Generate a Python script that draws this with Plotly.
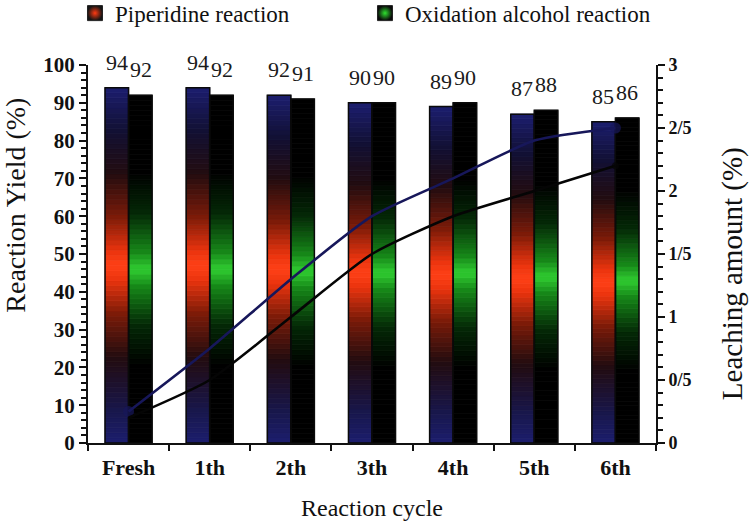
import plotly.graph_objects as go

# ---------------- data ----------------
categories = ["Fresh", "1th", "2th", "3th", "4th", "5th", "6th"]
piperidine_yield = [94, 94, 92, 90, 89, 87, 85]
oxidation_yield = [92, 92, 91, 90, 90, 88, 86]
leaching_navy = [0.25, 0.75, 1.3, 1.8, 2.1, 2.4, 2.5]
leaching_black = [0.2, 0.5, 1.0, 1.5, 1.8, 2.0, 2.2]
right_tickvals = [0, 0.5, 1, 1.5, 2, 2.5, 3]
right_ticktext = ["0", "0/5", "1", "1/5", "2", "2/5", "3"]

# ---------------- styling ----------------
FONT = "Liberation Serif"
N_SEG = 70

pip_stops = [
    (0.00, (28, 30, 110)),
    (0.10, (24, 22, 72)),
    (0.24, (34, 12, 16)),
    (0.36, (120, 26, 8)),
    (0.46, (235, 52, 14)),
    (0.50, (255, 64, 22)),
    (0.54, (235, 52, 14)),
    (0.64, (120, 26, 8)),
    (0.76, (34, 12, 16)),
    (0.88, (18, 16, 52)),
    (1.00, (28, 30, 110)),
]
oxi_stops = [
    (0.00, (0, 0, 0)),
    (0.22, (0, 0, 0)),
    (0.34, (4, 40, 6)),
    (0.45, (22, 135, 24)),
    (0.50, (48, 205, 48)),
    (0.55, (22, 135, 24)),
    (0.66, (4, 40, 6)),
    (0.78, (0, 0, 0)),
    (1.00, (0, 0, 0)),
]


def interp(stops, t):
    for (t0, c0), (t1, c1) in zip(stops[:-1], stops[1:]):
        if t0 <= t <= t1:
            f = 0 if t1 == t0 else (t - t0) / (t1 - t0)
            c = [round(a + (b - a) * f) for a, b in zip(c0, c1)]
            return f"rgb({c[0]},{c[1]},{c[2]})"
    c = stops[-1][1]
    return f"rgb({c[0]},{c[1]},{c[2]})"


fig = go.Figure()

# legend swatches (dark square with glowing centre)
fig.add_trace(go.Scatter(
    x=[None], y=[None], mode="markers", name="Piperidine reaction",
    marker=dict(symbol="square", size=15, color="#141414",
                gradient=dict(type="radial", color="#ff3a12"),
                line=dict(color="#222", width=1)),
))
fig.add_trace(go.Scatter(
    x=[None], y=[None], mode="markers", name="Oxidation alcohol reaction",
    marker=dict(symbol="square", size=15, color="#0a0a0a",
                gradient=dict(type="radial", color="#2ee02e"),
                line=dict(color="#222", width=1)),
))

# gradient bars built from stacked slices of each bar's value
for values, stops, grp in [(piperidine_yield, pip_stops, "pip"),
                           (oxidation_yield, oxi_stops, "oxi")]:
    for k in range(N_SEG):
        t = (k + 0.5) / N_SEG
        col = interp(stops, t)
        fig.add_trace(go.Bar(
            x=categories,
            y=[v / N_SEG for v in values],
            base=[v * k / N_SEG for v in values],
            offsetgroup=grp,
            marker=dict(color=col, line=dict(width=0.8, color=col)),
            showlegend=False, hoverinfo="skip",
        ))

# bar outlines
for values, grp, name in [(piperidine_yield, "pip", "Piperidine reaction"),
                          (oxidation_yield, "oxi", "Oxidation alcohol reaction")]:
    fig.add_trace(go.Bar(
        x=categories, y=values, offsetgroup=grp, name=name,
        marker=dict(color="rgba(0,0,0,0)", line=dict(color="#0a0a0a", width=1.5)),
        showlegend=False,
    ))

# leaching lines (secondary axis)
fig.add_trace(go.Scatter(
    x=categories, y=leaching_navy, yaxis="y2", mode="lines+markers",
    line=dict(color="#17175a", width=2.6, shape="spline", smoothing=0.6),
    marker=dict(size=[11, 0, 0, 0, 0, 0, 11], color="#17175a", line=dict(width=0)),
    showlegend=False,
))
fig.add_trace(go.Scatter(
    x=categories, y=leaching_black, yaxis="y2", mode="lines+markers",
    line=dict(color="#050505", width=2.6, shape="spline", smoothing=0.6),
    marker=dict(size=[0, 0, 0, 0, 0, 0, 7], color="#050505", line=dict(width=0)),
    showlegend=False,
))

# value labels above the bars
annotations = []
for values, shift in [(piperidine_yield, -12), (oxidation_yield, 12)]:
    for c, v in zip(categories, values):
        annotations.append(dict(
            x=c, y=v, xref="x", yref="y", text=str(v), showarrow=False,
            xanchor="center", yanchor="bottom", xshift=shift, yshift=11,
            font=dict(family=FONT, size=22, color="#1a1a1a"),
        ))
# rotated axis titles
annotations.append(dict(
    x=-0.127, y=0.63, xref="paper", yref="paper", text="Reaction Yield (%)",
    textangle=-90, showarrow=False, xanchor="center", yanchor="middle",
    font=dict(family=FONT, size=28, color="#111"),
))
annotations.append(dict(
    x=1.134, y=0.447, xref="paper", yref="paper", text="Leaching amount (%)",
    textangle=-90, showarrow=False, xanchor="center", yanchor="middle",
    font=dict(family=FONT, size=29, color="#111"),
))

fig.update_layout(
    width=749, height=526,
    margin=dict(l=88, r=93, t=65, b=83, autoexpand=False),
    paper_bgcolor="white", plot_bgcolor="white",
    barmode="group", bargap=0.42, bargroupgap=0.0,
    font=dict(family=FONT, color="#111"),
    showlegend=True,
    legend=dict(orientation="h", x=-0.0229, xanchor="left", y=1.194, yanchor="top",
                font=dict(family=FONT, size=23, color="#111"),
                bgcolor="rgba(0,0,0,0)", itemwidth=30, tracegroupgap=0,
                entrywidth=245, entrywidthmode="pixels"),
    annotations=annotations,
    xaxis=dict(
        type="category", categoryorder="array", categoryarray=categories,
        showline=True, linecolor="#111", linewidth=2,
        ticks="outside", ticklen=6, tickwidth=2, tickcolor="#111",
        tickson="boundaries", showgrid=False, ticklabelstandoff=4,
        tickfont=dict(family=FONT, size=22, color="#111", weight="bold"),
        title=dict(text="Reaction cycle", font=dict(family=FONT, size=24, color="#111"),
                   standoff=20),
    ),
    yaxis=dict(
        range=[0, 100], dtick=10, showline=True, linecolor="#111", linewidth=2,
        ticks="outside", ticklen=7, tickwidth=2, tickcolor="#111",
        showgrid=False, zeroline=False,
        minor=dict(dtick=2, ticks="outside", ticklen=5, tickwidth=1.5, tickcolor="#111"),
        tickfont=dict(family=FONT, size=21, color="#111", weight="bold"),
    ),
    yaxis2=dict(
        range=[0, 3], overlaying="y", side="right",
        tickvals=right_tickvals, ticktext=right_ticktext,
        showline=True, linecolor="#111", linewidth=2,
        ticks="outside", ticklen=7, tickwidth=2, tickcolor="#111",
        showgrid=False, zeroline=False,
        minor=dict(dtick=0.1, ticks="outside", ticklen=5, tickwidth=1.5, tickcolor="#111"),
        tickfont=dict(family=FONT, size=18, color="#111", weight="bold"),
    ),
)

fig.write_html("out.html", config={"displayModeBar": False},
               post_script="document.body.style.margin='0';")
